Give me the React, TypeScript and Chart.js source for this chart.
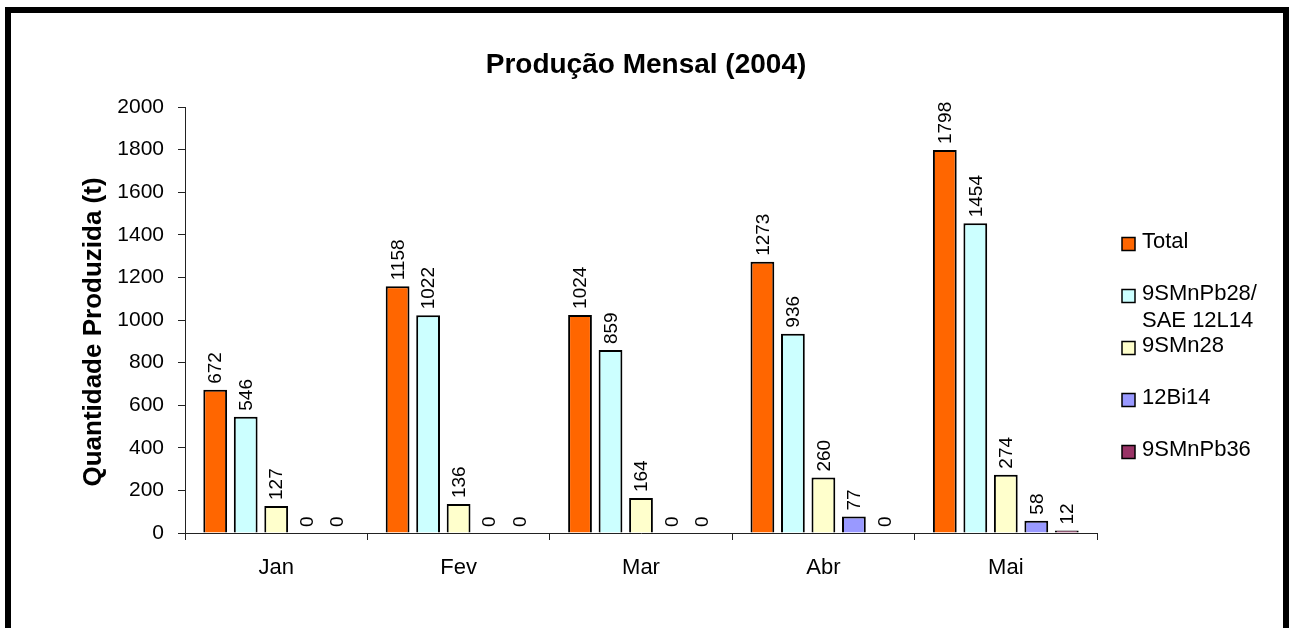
import React, { useEffect, useRef } from "react";
import { Chart, registerables } from "chart.js";

Chart.register(...registerables);

const categories = ["Jan", "Fev", "Mar", "Abr", "Mai"];
const seriesNames = ["Total", "9SMnPb28/\nSAE 12L14", "9SMn28", "12Bi14", "9SMnPb36"];
const totalValues = [672, 1158, 1024, 1273, 1798];
const pb28Values = [546, 1022, 859, 936, 1454];
const mn28Values = [127, 136, 164, 260, 274];
const bi14Values = [0, 0, 0, 77, 58];
const pb36Values = [0, 0, 0, 0, 12];
const seriesColors = ["#FF6600", "#CCFFFF", "#FFFFCC", "#9999FF", "#993366"];
const yTicksMax = 2000;
const yTicksStep = 200;
const chartTitle = "Produção Mensal (2004)";
const yAxisTitle = "Quantidade Produzida (t)";

const FONT = '"Liberation Sans", Arial, sans-serif';

const decorPlugin = {
  id: "decor",
  afterDatasetsDraw(chart: any) {
    const ctx = chart.ctx;
    ctx.save();
    ctx.fillStyle = "#000";
    ctx.font = `19px ${FONT}`;
    ctx.textAlign = "left";
    ctx.textBaseline = "middle";
    chart.data.datasets.forEach((ds: any, di: number) => {
      const meta = chart.getDatasetMeta(di);
      meta.data.forEach((el: any, i: number) => {
        ctx.save();
        ctx.translate(el.x + 1, el.y - 6);
        ctx.rotate(-Math.PI / 2);
        ctx.fillText(String(ds.data[i]), 0, 0);
        ctx.restore();
      });
    });
    ctx.restore();
  },
  afterDraw(chart: any) {
    const ctx = chart.ctx;
    ctx.save();
    // frame
    ctx.strokeStyle = "#000";
    ctx.lineWidth = 6;
    ctx.strokeRect(8, 10, 1278, 700);
    // title
    ctx.fillStyle = "#000";
    ctx.font = `bold 28px ${FONT}`;
    ctx.textAlign = "center";
    ctx.textBaseline = "middle";
    ctx.fillText(chartTitle, 646, 65);
    // y title
    ctx.save();
    ctx.translate(94, 332);
    ctx.rotate(-Math.PI / 2);
    ctx.font = `bold 26px ${FONT}`;
    ctx.fillText(yAxisTitle, 0, 0);
    ctx.restore();
    // legend
    ctx.font = `22px ${FONT}`;
    ctx.textAlign = "left";
    chart.data.datasets.forEach((ds: any, i: number) => {
      const cy = 244 + i * 52;
      ctx.fillStyle = ds.backgroundColor;
      ctx.fillRect(1122, cy - 6.5, 13, 13);
      ctx.strokeStyle = "#000";
      ctx.lineWidth = 1.5;
      ctx.strokeRect(1122, cy - 6.5, 13, 13);
      ctx.fillStyle = "#000";
      const lines = String(ds.label).split("\n");
      lines.forEach((ln: string, li: number) => {
        ctx.fillText(ln, 1142, cy - 2 + li * 27);
      });
    });
    ctx.restore();
  },
};

export default function App() {
  const ref = useRef<HTMLCanvasElement | null>(null);
  useEffect(() => {
    const values = [totalValues, pb28Values, mn28Values, bi14Values, pb36Values];
    const chart = new Chart(ref.current as HTMLCanvasElement, {
      type: "bar",
      data: {
        labels: categories,
        datasets: values.map((v, i) => ({
          label: seriesNames[i],
          data: v,
          backgroundColor: seriesColors[i],
          borderColor: "#000",
          borderWidth: 2,
          categoryPercentage: 0.836,
          barPercentage: 0.78,
        })),
      },
      options: {
        responsive: false,
        animation: false,
        layout: { padding: { left: 0, right: 196, top: 107, bottom: 45 } },
        plugins: {
          legend: { display: false },
          title: { display: false },
          tooltip: { enabled: false },
        },
        scales: {
          x: {
            afterFit: (s: any) => {
              s.height = 50;
            },
            border: { color: "#222", width: 1 },
            grid: { offset: true, drawOnChartArea: false, drawTicks: true, tickLength: 7, color: "#222" },
            ticks: { color: "#000", font: { family: FONT, size: 22 }, padding: 15 },
          },
          y: {
            min: 0,
            max: yTicksMax,
            afterFit: (s: any) => {
              s.width = 185;
            },
            border: { color: "#222", width: 1 },
            grid: { drawOnChartArea: false, drawTicks: true, tickLength: 7, color: "#222" },
            ticks: {
              stepSize: yTicksStep,
              color: "#000",
              font: { family: FONT, size: 21 },
              padding: 14,
              callback: (v: any) => String(v),
            },
          },
        },
      },
      plugins: [decorPlugin],
    } as any);
    return () => chart.destroy();
  }, []);
  return (
    <div style={{ position: "absolute", left: 0, top: 0, width: 1293, height: 628, background: "#fff" }}>
      <canvas ref={ref} width={1293} height={628} style={{ display: "block" }} />
    </div>
  );
}
